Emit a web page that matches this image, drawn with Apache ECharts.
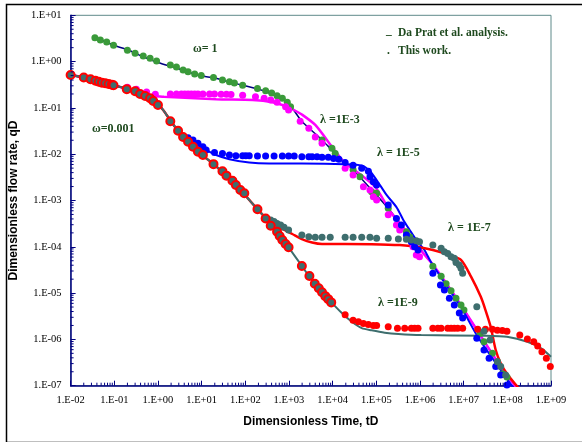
<!DOCTYPE html>
<html><head><meta charset="utf-8">
<script src="https://cdn.jsdelivr.net/npm/echarts@6/dist/echarts.min.js"></script>
<style>html,body{margin:0;padding:0;background:#fff}#c{width:582px;height:442px}</style>
</head><body><div id="c"></div>
<script>
// ---------- axis ticks ----------
const xDecades = [1e-2,1e-1,1e0,1e1,1e2,1e3,1e4,1e5,1e6,1e7,1e8,1e9];
const yDecades = [1e-7,1e-6,1e-5,1e-4,1e-3,1e-2,1e-1,1e0,1e1];
const minorMantissas = [2,3,4,5,6,7,8,9];

// ---------- lines (Da Prat et al. analysis) ----------
const omega1Line = [[0.037,3.24],[0.057,2.79],[0.096,2.25],[0.21,1.78],[0.42,1.32],[1.0,0.96],[2.89,0.71],[9.0,0.50],[19.7,0.443],[43.3,0.362],[103,0.297],[292,0.226],[705,0.154],[1087,0.110],[1973,0.0514],[5713,0.0203],[11460,0.0104],[29380,0.0046],[78160,0.00169],[187500,0.00068],[488600,0.00021]];
const steepLine = [[1.807e6,4.56e-5],[3.96e6,1.65e-5],[8.69e6,5.5e-6],[2.1e7,1.5e-6],[7.05e7,2.6e-7],[1.64e8,8.9e-8]];
const earlyLineA = [[0.01,0.514],[0.02,0.454],[0.037,0.387],[0.062,0.341],[0.096,0.309]];
const earlyLineB = [[0.193,0.261],[0.39,0.207],[0.66,0.164],[1.0,0.121],[1.37,0.0857],[1.92,0.0535],[2.89,0.0322]];
const midLine = [[4.89,0.0186],[8.24,0.0113],[18.7,0.0061],[37,0.00344],[77,0.00169],[190,0.00065],[292,0.00042]];
const lam3LineTail = [[0.163,0.269],[0.357,0.195],[1.37,0.175],[21.5,0.154],[147,0.148],[417,0.133],[837,0.110],[1300,0.0901],[1973,0.072],[4000,0.0428],[9640,0.0145],[19330,0.0063],[27480,0.0050],[92460,0.00199],[222600,0.00053],[375800,0.000296],[824100,0.000109]];
const lam5LineTail = [[4.89,0.0213],[10.7,0.0135],[21.5,0.0096],[43.3,0.0078],[123,0.0066],[351,0.0063],[1973,0.0063],[19330,0.0061],[46340,0.0057],[71610,0.0043],[101600,0.00277],[171400,0.00132],[289000,0.00072],[415000,0.00038],[580700,0.000231],[824100,0.00014],[1.265e6,8.5e-5],[1.807e6,4.56e-5],[3.96e6,1.5e-5],[8.69e6,5.0e-6],[2.1e7,1.14e-6],[7.05e7,2.18e-7],[1.39e8,8.9e-8]];
const lam7LineTail = [[417,3.18e-4],[705,2.43e-4],[1189,1.89e-4],[1973,1.47e-4],[3388,1.24e-4],[5713,1.15e-4],[19330,1.15e-4],[78160,1.14e-4],[343600,1.09e-4],[824100,1.0e-4],[1.97e6,8.5e-5],[4.71e6,6.65e-5],[8.69e6,5.2e-5],[1.466e7,2.3e-5],[2.47e7,8.3e-6],[3.16e7,4.3e-6],[4.17e7,1.85e-6],[5.42e7,5.9e-7],[7.05e7,3.05e-7],[9.8e7,1.82e-7],[1.81e8,8.9e-8]];
const lam9LineTail = [[611,1.71e-4],[980,9.75e-5],[1973,3.85e-5],[4000,1.5e-5],[7943,7.46e-6],[16270,3.7e-6],[27480,2.4e-6],[46340,1.75e-6],[78160,1.57e-6],[156000,1.4e-6],[319700,1.31e-6],[1.07e6,1.24e-6],[2.92e7,1.2e-6],[9.8e7,1.14e-6],[2.88e8,8.9e-7],[5.98e8,6.4e-7],[1.0e9,4.2e-7]];

// ---------- dots (This work) ----------
const omega1Dots = [[0.036,3.28],[0.048,2.93],[0.067,2.65],[0.096,2.25],[0.20,1.75],[0.30,1.51],[0.46,1.32],[0.66,1.18],[0.93,1.03],[1.92,0.845],[2.65,0.764],[3.76,0.66],[4.89,0.60],[6.93,0.54],[9.8,0.50],[18.7,0.454],[30,0.401],[43.3,0.368],[56.2,0.345],[86.9,0.309],[190,0.261],[292,0.235],[402,0.210],[534,0.183],[705,0.161],[914,0.133],[1087,0.106],[5713,0.0203],[9640,0.0135],[11460,0.0104],[29380,0.0046],[42370,0.00327],[78160,0.00155],[101600,0.00143],[187500,0.00068],[488600,0.000212],[580700,0.000165],[1.97e6,3.8e-5],[3.05e6,2.3e-5],[3.96e6,1.59e-5],[5.14e6,1.12e-5],[6.68e6,7.7e-6],[8.69e6,5.5e-6],[1.016e7,4.3e-6],[2.38e7,1.35e-6],[2.92e7,8.9e-7],[4.56e7,5.0e-7],[5.93e7,3.3e-7],[7.7e7,1.82e-7],[9.8e7,1.54e-7]];
const sharedDots = [[0.01,0.514],[0.02,0.454],[0.0285,0.415],[0.037,0.387],[0.044,0.368],[0.052,0.350],[0.062,0.341],[0.074,0.328],[0.088,0.318],[0.096,0.309],[0.193,0.254],[0.30,0.229],[0.39,0.200],[0.51,0.181],[0.66,0.161],[0.78,0.141],[1.0,0.116],[1.92,0.0514],[2.89,0.0322],[3.76,0.0235],[4.89,0.0186],[6.34,0.0145],[8.24,0.0113],[10.7,0.0096],[18.7,0.0061],[30,0.0043],[37,0.00344],[50.7,0.00268],[60.8,0.00216],[77,0.00169],[94.9,0.00143],[190,0.00065],[292,0.00041]];
const lam3Dots = [[0.20,0.279],[0.32,0.254],[0.55,0.220],[0.87,0.197],[1.92,0.200],[2.65,0.200],[3.44,0.200],[4.11,0.200],[4.89,0.200],[5.80,0.200],[6.93,0.200],[8.24,0.200],[10.7,0.200],[15.2,0.200],[19.7,0.200],[27.9,0.197],[37,0.197],[47.1,0.195],[86.9,0.187],[171,0.175],[270,0.161],[382,0.148],[534,0.133],[837,0.106],[980,0.0901],[1807,0.0514],[2848,0.0362],[4000,0.0235],[5713,0.0172],[19330,0.0050],[29380,0.00356],[50700,0.00199],[71610,0.00169],[85500,0.00121],[101600,0.00103],[187500,0.00049],[289000,0.000296],[343600,0.000231],[693400,0.0001],[824100,6.65e-5],[975000,6.11e-5]];
const lam5Dots = [[4.89,0.0227],[6.34,0.0203],[8.24,0.0172],[10.7,0.0145],[12.7,0.0123],[19.7,0.0109],[30,0.0104],[43.3,0.0096],[60.8,0.0093],[86.9,0.0093],[103,0.0093],[123,0.0093],[190,0.0091],[292,0.0091],[456,0.0091],[705,0.0091],[980,0.0091],[1318,0.0091],[1973,0.0088],[2848,0.0088],[3388,0.0088],[4397,0.0088],[5713,0.0086],[7943,0.0086],[10540,0.0081],[13900,0.0078],[19330,0.0066],[29380,0.0058],[46340,0.0050],[65790,0.0043],[71610,0.00327],[85500,0.00255],[101600,0.00216],[187500,0.0008],[289000,0.00041],[375800,0.000296],[488600,0.00018],[634100,0.000129],[753400,0.0001],[901500,8.5e-5],[1.97e6,2.68e-5],[2.94e6,1.5e-5],[3.62e6,1.17e-5],[4.71e6,7.7e-6],[6.11e6,5.5e-6],[7.94e6,3.7e-6],[9.48e6,2.9e-6],[2.0e7,1.06e-6],[2.92e7,5.9e-7],[3.82e7,3.9e-7],[5.42e7,2.6e-7],[7.05e7,1.7e-7],[9.8e7,1.03e-7]];
const lam7Dots = [[292,0.00043],[382,0.00038],[456,0.00035],[534,0.00032],[644,0.000296],[770,0.000264],[980,0.000231],[1973,0.00018],[2848,0.000165],[4000,0.00016],[5713,0.00016],[8810,0.00016],[19330,0.00016],[29380,0.00016],[46340,0.00016],[71610,0.00016],[101600,0.000153],[187500,0.000153],[319700,0.000148],[488600,0.000145],[634100,0.00014],[824100,0.000135],[975000,0.000129],[1.97e6,0.000109],[3.05e6,9.3e-5],[3.62e6,7.8e-5],[4.33e6,7.2e-5],[5.14e6,6.1e-5],[6.11e6,5.65e-5],[6.68e6,4.56e-5],[7.94e6,4.05e-5],[8.69e6,3.44e-5],[9.48e6,2.68e-5],[2.0e7,5.1e-6],[2.92e7,1.5e-6],[4.03e7,9.7e-7],[5.93e7,3.3e-7],[7.05e7,2.6e-7],[9.14e7,1.7e-7]];
const lam9DeclineDots = [[382,0.000286],[534,0.000212],[611,0.000171],[705,0.00014],[837,0.000115],[980,9.75e-5],[1973,3.85e-5],[2940,2.34e-5],[3900,1.59e-5],[4810,1.27e-5],[5713,1.04e-5],[6790,8.6e-6],[7943,7.4e-6],[9290,6.3e-6]];
const lam9PlateauDots = [[19330,3.4e-6],[29380,2.6e-6],[38990,2.4e-6],[50700,2.2e-6],[65790,2.1e-6],[85500,2.0e-6],[101600,2.0e-6],[187500,1.88e-6],[305000,1.75e-6],[446700,1.75e-6],[634100,1.75e-6],[753400,1.75e-6],[901500,1.75e-6],[1.97e6,1.75e-6],[2.56e6,1.75e-6],[3.05e6,1.75e-6],[4.33e6,1.75e-6],[5.14e6,1.75e-6],[6.11e6,1.75e-6],[7.31e6,1.75e-6],[9.48e6,1.75e-6],[2.1e7,1.65e-6],[3.16e7,1.65e-6],[4.56e7,1.65e-6],[5.93e7,1.57e-6],[7.7e7,1.55e-6],[9.8e7,1.5e-6],[1.93e8,1.24e-6],[2.88e8,1.02e-6],[4.03e8,8.9e-7],[4.95e8,7.2e-7],[6.2e8,5.4e-7],[7.82e8,3.9e-7],[9.64e8,2.6e-7]];

// ---------- text ----------
const legendLines = ['Da Prat et al. analysis.', 'This work.'];
const annotations = ['ω= 1', 'ω=0.001', 'λ =1E-3', 'λ = 1E-5', 'λ = 1E-7', 'λ =1E-9'];

// ---------- build ----------
const C = {
  navy:'#000080', green:'#3a9a3a', magenta:'#ff00ff', blue:'#0000ff',
  red:'#ff0000', teal:'#3e6e6e', note:'#1f4a1f'
};
const serif = '"Liberation Serif","Times New Roman",serif';
const sans = '"Liberation Sans",Arial,sans-serif';

function fmt(v){
  const e = Math.round(Math.log10(v));
  const a = Math.abs(e);
  return '1.E' + (e < 0 ? '-' : '+') + (a < 10 ? '0' : '') + a;
}
const xMinor = [], yMinor = [];
xDecades.slice(0, -1).forEach(d => minorMantissas.forEach(m => xMinor.push([m * d, yDecades[0]])));
yDecades.slice(0, -1).forEach(d => minorMantissas.forEach(m => yMinor.push([xDecades[0], m * d])));

function lineS(data, color, width, z){
  return {type:'line', data, showSymbol:false, symbol:'none', smooth:0.25, clip:true,
    lineStyle:{color, width}, z, silent:true};
}
function dotS(data, color, size, z, extra){
  return Object.assign({type:'scatter', data, symbol:'circle', symbolSize:size, clip:true,
    itemStyle:{color, opacity:1}, z, silent:true}, extra || {});
}
function tickS(data, dx, dy){
  return {type:'custom', data, clip:false, z:20, silent:true,
    renderItem:(p, api) => {
      const pt = api.coord([api.value(0), api.value(1)]);
      return {type:'line', shape:{x1:pt[0], y1:pt[1], x2:pt[0]+dx, y2:pt[1]+dy},
        style:{stroke:C.navy, lineWidth:1}};
    }};
}

const chart = echarts.init(document.getElementById('c'), null, {renderer:'canvas'});
chart.setOption({
  animation:false,
  backgroundColor:'#fff',
  textStyle:{fontFamily:serif},
  grid:{left:66.7, right:31, top:15.3, bottom:56.3, show:true, borderColor:'#5f8a8a', borderWidth:1},
  xAxis:{type:'log', logBase:10, min:xDecades[0], max:xDecades[xDecades.length-1], interval:1,
    name:'Dimensionless Time, tD', nameLocation:'middle', nameGap:30,
    nameTextStyle:{fontFamily:sans, fontWeight:'bold', fontSize:12, color:'#000'},
    axisLine:{show:true, lineStyle:{color:C.navy, width:1.5}},
    axisTick:{show:true, inside:true, length:5, lineStyle:{color:C.navy, width:1}},
    axisLabel:{formatter:fmt, fontFamily:serif, fontSize:10.5, color:'#000', margin:9},
    splitLine:{show:false}, minorTick:{show:false}},
  yAxis:{type:'log', logBase:10, min:yDecades[0], max:yDecades[yDecades.length-1], interval:1,
    name:'Dimensionless flow rate, qD', nameLocation:'middle', nameGap:44,
    nameTextStyle:{fontFamily:sans, fontWeight:'bold', fontSize:12, color:'#000'},
    axisLine:{show:true, lineStyle:{color:C.navy, width:1.5}},
    axisTick:{show:true, inside:true, length:5, lineStyle:{color:C.navy, width:1}},
    axisLabel:{formatter:fmt, fontFamily:serif, fontSize:10.5, color:'#000', margin:9},
    splitLine:{show:false}, minorTick:{show:false}},
  series:[
    tickS(xMinor, 0, -3),
    tickS(yMinor, 3, 0),
    lineS(omega1Line.concat(steepLine), C.navy, 1.5, 2),
    lineS(earlyLineA.concat(lam3LineTail, steepLine), C.magenta, 2.5, 2),
    lineS(earlyLineA.concat(earlyLineB, lam5LineTail), C.blue, 2, 2),
    lineS(earlyLineA.concat(earlyLineB, midLine, lam7LineTail), C.red, 2.5, 2),
    lineS(earlyLineA.concat(earlyLineB, midLine, lam9LineTail), C.teal, 2, 3),
    dotS(omega1Dots, C.green, 7, 4),
    dotS(lam3Dots, C.magenta, 7, 4),
    dotS(lam5Dots, C.blue, 7, 4),
    dotS(lam9PlateauDots, C.red, 7, 4),
    dotS(lam7Dots, C.teal, 7, 5),
    dotS(sharedDots.concat(lam9DeclineDots), C.teal, 8, 6, {itemStyle:{color:C.teal, borderColor:C.red, borderWidth:2, opacity:1}})
  ],
  graphic:[
    {type:'rect', left:4, top:2, shape:{width:620, height:438}, style:{fill:'none', stroke:'#000', lineWidth:1.5}, silent:true},
    {type:'text', left:386, top:25, style:{text:'_', font:'bold 11.5px ' + serif, fill:C.note}},
    {type:'text', left:398, top:27, style:{text:legendLines[0], font:'bold 11.5px ' + serif, fill:C.note}},
    {type:'text', left:387, top:45, style:{text:'.', font:'bold 11.5px ' + serif, fill:C.note}},
    {type:'text', left:398, top:45, style:{text:legendLines[1], font:'bold 11.5px ' + serif, fill:C.note}},
    {type:'text', left:193, top:43, style:{text:annotations[0], font:'bold 12px ' + serif, fill:C.note}},
    {type:'text', left:92, top:123, style:{text:annotations[1], font:'bold 12px ' + serif, fill:C.note}},
    {type:'text', left:320, top:114, style:{text:annotations[2], font:'bold 12px ' + serif, fill:C.note}},
    {type:'text', left:377, top:147, style:{text:annotations[3], font:'bold 12px ' + serif, fill:C.note}},
    {type:'text', left:448, top:222, style:{text:annotations[4], font:'bold 12px ' + serif, fill:C.note}},
    {type:'text', left:378, top:297, style:{text:annotations[5], font:'bold 12px ' + serif, fill:C.note}}
  ]
});
</script></body></html>
